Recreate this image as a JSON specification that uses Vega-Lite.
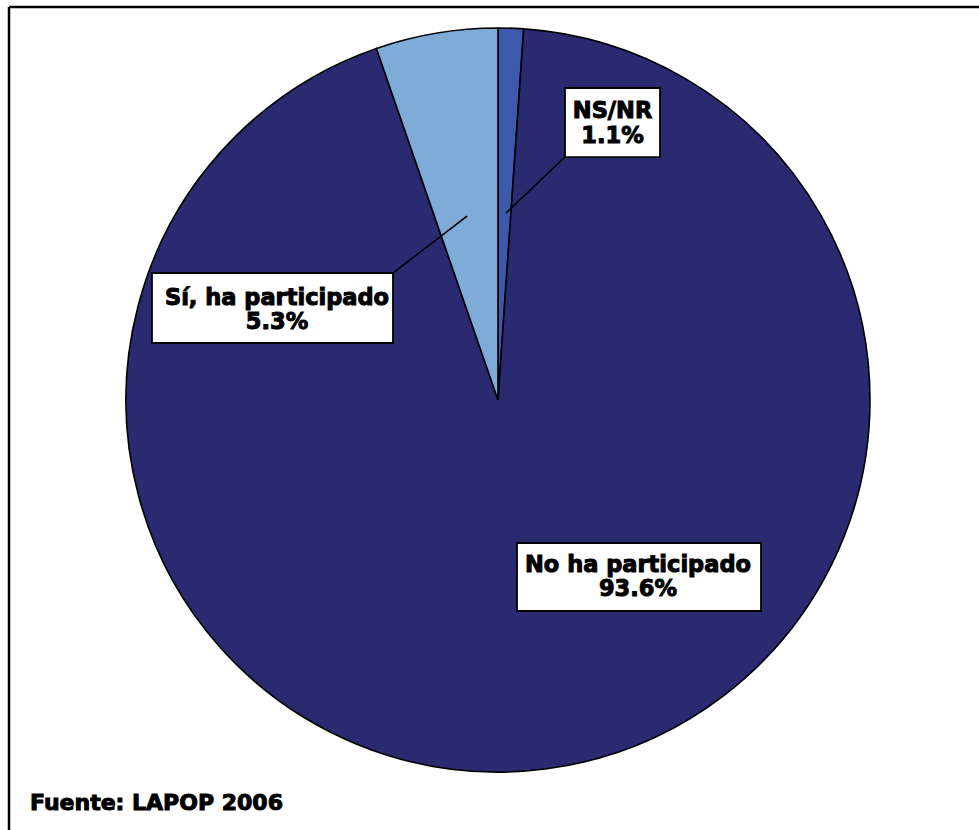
{
  "$schema": "https://vega.github.io/schema/vega-lite/v6.json",
  "width": 970,
  "height": 823,
  "autosize": {"type": "none"},
  "padding": {"left": 9, "top": 7, "right": 0, "bottom": 0},
  "background": "white",
  "config": {"view": {"stroke": null}, "font": "DejaVu Sans"},
  "data": {
    "values": [
      {"respuesta": "NS/NR", "porcentaje": 1.1, "orden": 1, "etiqueta": "NS/NR\n1.1%"},
      {"respuesta": "No ha participado", "porcentaje": 93.6, "orden": 2, "etiqueta": "No ha participado\n93.6%"},
      {"respuesta": "Sí, ha participado", "porcentaje": 5.3, "orden": 3, "etiqueta": "Sí, ha participado\n5.3%"}
    ]
  },
  "layer": [
    {
      "data": {"values": [{"fuente": "Fuente: LAPOP 2006"}]},
      "mark": {"type": "rule", "stroke": "#000", "strokeWidth": 2.5},
      "encoding": {
        "x": {"datum": -1.3145, "type": "quantitative", "scale": {"domain": [-1.3145, 1.293], "nice": false, "zero": false}, "axis": null},
        "x2": {"datum": 1.293},
        "y": {"datum": 1.0565, "type": "quantitative", "scale": {"domain": [-1.1559, 1.0565], "nice": false, "zero": false}, "axis": null}
      }
    },
    {
      "data": {"values": [{"fuente": "Fuente: LAPOP 2006"}]},
      "mark": {"type": "rule", "stroke": "#000", "strokeWidth": 2.5},
      "encoding": {
        "x": {"datum": -1.3145, "type": "quantitative", "scale": {"domain": [-1.3145, 1.293], "nice": false, "zero": false}, "axis": null},
        "y": {"datum": -1.1559, "type": "quantitative", "scale": {"domain": [-1.1559, 1.0565], "nice": false, "zero": false}, "axis": null},
        "y2": {"datum": 1.0565}
      }
    },
    {
      "mark": {"type": "arc", "outerRadius": 372, "stroke": "#000", "strokeWidth": 1.6},
      "encoding": {
        "theta": {"field": "porcentaje", "type": "quantitative", "stack": true},
        "order": {"field": "orden", "type": "quantitative"},
        "color": {
          "field": "respuesta",
          "type": "nominal",
          "scale": {"domain": ["NS/NR", "No ha participado", "Sí, ha participado"], "range": ["#3D59AB", "#292A70", "#7EABD8"]},
          "legend": null
        },
        "x": {"datum": 0, "type": "quantitative", "scale": {"domain": [-1.3145, 1.293], "nice": false, "zero": false}, "axis": null},
        "y": {"datum": 0, "type": "quantitative", "scale": {"domain": [-1.1559, 1.0565], "nice": false, "zero": false}, "axis": null}
      }
    },
    {
      "transform": [{"filter": "datum.respuesta === 'NS/NR'"}],
      "mark": {"type": "rule", "stroke": "#000", "strokeWidth": 1.6},
      "encoding": {
        "x": {"datum": 0.1801, "type": "quantitative", "scale": {"domain": [-1.3145, 1.293], "nice": false, "zero": false}, "axis": null},
        "x2": {"datum": 0.0215},
        "y": {"datum": 0.6532, "type": "quantitative", "scale": {"domain": [-1.1559, 1.0565], "nice": false, "zero": false}, "axis": null},
        "y2": {"datum": 0.5027}
      }
    },
    {
      "transform": [{"filter": "datum.respuesta === 'Sí, ha participado'"}],
      "mark": {"type": "rule", "stroke": "#000", "strokeWidth": 1.6},
      "encoding": {
        "x": {"datum": -0.2823, "type": "quantitative", "scale": {"domain": [-1.3145, 1.293], "nice": false, "zero": false}, "axis": null},
        "x2": {"datum": -0.0833},
        "y": {"datum": 0.3414, "type": "quantitative", "scale": {"domain": [-1.1559, 1.0565], "nice": false, "zero": false}, "axis": null},
        "y2": {"datum": 0.4946}
      }
    },
    {
      "transform": [{"filter": "datum.respuesta === 'NS/NR'"}],
      "mark": {"type": "rect", "fill": "#fff", "stroke": "#000", "strokeWidth": 1.8},
      "encoding": {
        "x": {"datum": 0.1801, "type": "quantitative", "scale": {"domain": [-1.3145, 1.293], "nice": false, "zero": false}, "axis": null},
        "x2": {"datum": 0.4355},
        "y": {"datum": 0.8387, "type": "quantitative", "scale": {"domain": [-1.1559, 1.0565], "nice": false, "zero": false}, "axis": null},
        "y2": {"datum": 0.6532}
      }
    },
    {
      "transform": [{"filter": "datum.respuesta === 'Sí, ha participado'"}],
      "mark": {"type": "rect", "fill": "#fff", "stroke": "#000", "strokeWidth": 1.8},
      "encoding": {
        "x": {"datum": -0.9301, "type": "quantitative", "scale": {"domain": [-1.3145, 1.293], "nice": false, "zero": false}, "axis": null},
        "x2": {"datum": -0.2823},
        "y": {"datum": 0.3414, "type": "quantitative", "scale": {"domain": [-1.1559, 1.0565], "nice": false, "zero": false}, "axis": null},
        "y2": {"datum": 0.1532}
      }
    },
    {
      "transform": [{"filter": "datum.respuesta === 'No ha participado'"}],
      "mark": {"type": "rect", "fill": "#fff", "stroke": "#000", "strokeWidth": 1.8},
      "encoding": {
        "x": {"datum": 0.0511, "type": "quantitative", "scale": {"domain": [-1.3145, 1.293], "nice": false, "zero": false}, "axis": null},
        "x2": {"datum": 0.707},
        "y": {"datum": -0.3844, "type": "quantitative", "scale": {"domain": [-1.1559, 1.0565], "nice": false, "zero": false}, "axis": null},
        "y2": {"datum": -0.5672}
      }
    },
    {
      "transform": [{"filter": "datum.respuesta === 'NS/NR'"}],
      "mark": {"type": "text", "fontSize": 22.5, "fontWeight": "bold", "lineBreak": "\n", "lineHeight": 24.5, "align": "center", "baseline": "middle", "color": "#000", "stroke": "#000", "strokeWidth": 1},
      "encoding": {
        "text": {"field": "etiqueta"},
        "x": {"datum": 0.3078, "type": "quantitative", "scale": {"domain": [-1.3145, 1.293], "nice": false, "zero": false}, "axis": null},
        "y": {"datum": 0.7769, "type": "quantitative", "scale": {"domain": [-1.1559, 1.0565], "nice": false, "zero": false}, "axis": null}
      }
    },
    {
      "transform": [{"filter": "datum.respuesta === 'Sí, ha participado'"}],
      "mark": {"type": "text", "fontSize": 22.5, "fontWeight": "bold", "lineBreak": "\n", "lineHeight": 24.5, "align": "center", "baseline": "middle", "color": "#000", "stroke": "#000", "strokeWidth": 1},
      "encoding": {
        "text": {"field": "etiqueta"},
        "x": {"datum": -0.5941, "type": "quantitative", "scale": {"domain": [-1.3145, 1.293], "nice": false, "zero": false}, "axis": null},
        "y": {"datum": 0.2755, "type": "quantitative", "scale": {"domain": [-1.1559, 1.0565], "nice": false, "zero": false}, "axis": null}
      }
    },
    {
      "transform": [{"filter": "datum.respuesta === 'No ha participado'"}],
      "mark": {"type": "text", "fontSize": 22.5, "fontWeight": "bold", "lineBreak": "\n", "lineHeight": 24.5, "align": "center", "baseline": "middle", "color": "#000", "stroke": "#000", "strokeWidth": 1},
      "encoding": {
        "text": {"field": "etiqueta"},
        "x": {"datum": 0.3763, "type": "quantitative", "scale": {"domain": [-1.3145, 1.293], "nice": false, "zero": false}, "axis": null},
        "y": {"datum": -0.4435, "type": "quantitative", "scale": {"domain": [-1.1559, 1.0565], "nice": false, "zero": false}, "axis": null}
      }
    },
    {
      "data": {"values": [{"fuente": "Fuente: LAPOP 2006"}]},
      "mark": {"type": "text", "fontSize": 22, "fontWeight": "bold", "align": "left", "baseline": "alphabetic", "color": "#000", "stroke": "#000", "strokeWidth": 1},
      "encoding": {
        "text": {"field": "fuente"},
        "x": {"datum": -1.2581, "type": "quantitative", "scale": {"domain": [-1.3145, 1.293], "nice": false, "zero": false}, "axis": null},
        "y": {"datum": -1.1022, "type": "quantitative", "scale": {"domain": [-1.1559, 1.0565], "nice": false, "zero": false}, "axis": null}
      }
    }
  ]
}
